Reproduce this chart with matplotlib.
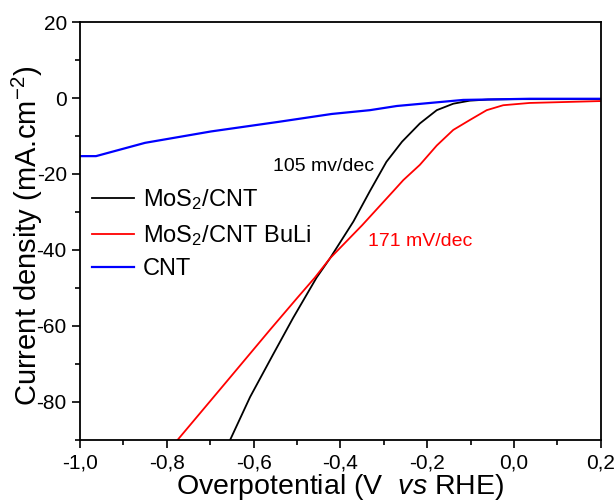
import matplotlib
matplotlib.use("Agg")
import matplotlib.pyplot as plt
from matplotlib.ticker import MultipleLocator, FuncFormatter

plt.rcParams['font.family'] = ['Liberation Sans', 'DejaVu Sans']
plt.rcParams['mathtext.fontset'] = 'custom'
plt.rcParams['mathtext.rm'] = 'Liberation Sans'
plt.rcParams['mathtext.it'] = 'Liberation Sans:italic'

# MoS2/CNT (black)
v_mos2 = [-0.654, -0.608, -0.555, -0.509, -0.455, -0.424, -0.37, -0.332, -0.294,
          -0.258, -0.217, -0.178, -0.14, -0.102, -0.06, 0.0, 0.2]
j_mos2 = [-90.0, -78.7, -67.5, -57.9, -47.3, -42.2, -32.5, -24.5, -16.8,
          -11.5, -6.7, -3.2, -1.5, -0.7, -0.4, -0.3, -0.3]

# MoS2/CNT BuLi (red)
v_buli = [-0.775, -0.661, -0.562, -0.5, -0.459, -0.424, -0.35, -0.278, -0.255,
          -0.217, -0.178, -0.14, -0.102, -0.063, -0.025, 0.036, 0.2]
j_buli = [-90.0, -74.5, -61.0, -52.7, -47.3, -42.2, -33.5, -24.5, -21.6,
          -17.6, -12.5, -8.4, -5.8, -3.2, -1.9, -1.3, -0.8]

# CNT (blue)
v_cnt = [-1.0, -0.963, -0.85, -0.698, -0.544, -0.42, -0.332, -0.27, -0.117, 0.036, 0.2]
j_cnt = [-15.3, -15.3, -11.8, -8.8, -6.3, -4.2, -3.2, -2.1, -0.5, -0.2, -0.2]

labels = ['MoS$_2$/CNT', 'MoS$_2$/CNT BuLi', 'CNT']
tafel_labels = ['105 mv/dec', '171 mV/dec']

fig = plt.figure(figsize=(6.15, 5.01), dpi=100)
ax = fig.add_axes([0.130, 0.122, 0.847, 0.834])

ax.plot(v_mos2, j_mos2, color='black', lw=1.3, label=labels[0])
ax.plot(v_buli, j_buli, color='red', lw=1.3, label=labels[1])
ax.plot(v_cnt, j_cnt, color='blue', lw=1.6, label=labels[2])

ax.text(-0.555, -18, tafel_labels[0], color='black', fontsize=14, va='center')
ax.text(-0.336, -37.8, tafel_labels[1], color='red', fontsize=14, va='center')

ax.set_xlim(-1.0, 0.2)
ax.set_ylim(-90, 20)
ax.xaxis.set_major_locator(MultipleLocator(0.2))
ax.xaxis.set_minor_locator(MultipleLocator(0.1))
ax.yaxis.set_major_locator(MultipleLocator(20))
ax.yaxis.set_minor_locator(MultipleLocator(10))
ax.xaxis.set_major_formatter(FuncFormatter(lambda x, p: f"{x:.1f}".replace('.', ',').replace('-0,0', '0,0')))
ax.yaxis.set_major_formatter(FuncFormatter(lambda y, p: f"{y:.0f}"))
ax.tick_params(which='both', direction='out', top=False, right=False, labelsize=15, width=1.2)
ax.tick_params(which='major', length=6)
ax.tick_params(which='minor', length=3.5)
for s in ax.spines.values():
    s.set_linewidth(1.3)

ax.set_xlabel('Overpotential (V  $\\it{vs}$ RHE)', fontsize=20.5, labelpad=0)
ax.set_ylabel('Current density (mA.cm$^{-2}$)', fontsize=21)
ax.yaxis.set_label_coords(-0.068, 0.487)

ax.legend(loc='center left', bbox_to_anchor=(0.0, 0.493), frameon=False, fontsize=17,
          borderpad=0, handlelength=1.8, handletextpad=0.35, labelspacing=0.45)

fig.savefig('out.png', dpi=100)
